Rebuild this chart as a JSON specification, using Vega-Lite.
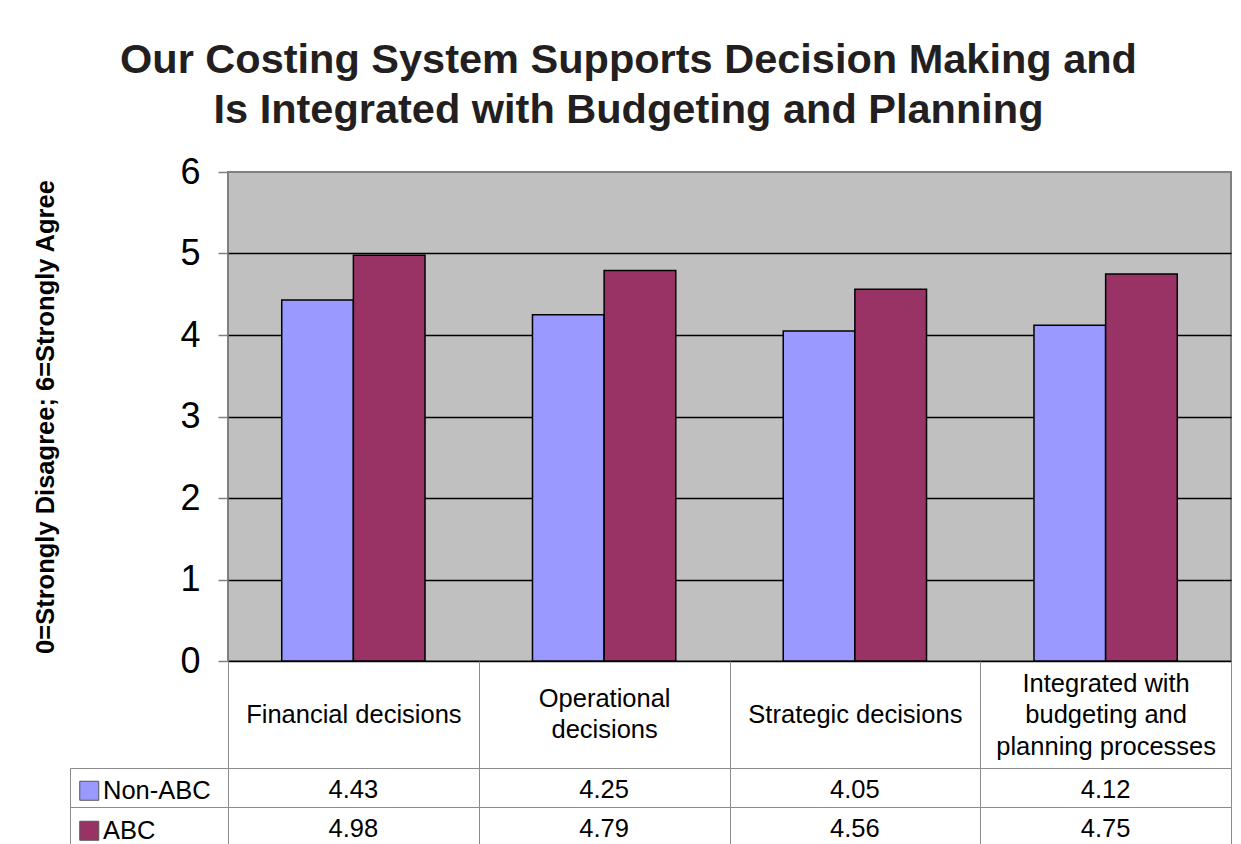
{
  "$schema": "https://vega.github.io/schema/vega-lite/v6.json",
  "width": 1003,
  "height": 489,
  "autosize": {"type": "none"},
  "padding": {"left": 228, "top": 172, "right": 10, "bottom": 183},
  "background": "white",
  "title": {
    "text": ["Our Costing System Supports Decision Making and", "Is Integrated with Budgeting and Planning"],
    "font": "Liberation Sans",
    "fontSize": 41.5,
    "fontWeight": "bold",
    "color": "#231f20",
    "lineHeight": 49.5,
    "anchor": "middle",
    "frame": "group",
    "dx": -101,
    "offset": 23
  },
  "data": {
    "values": [
      {"category": "Financial decisions", "group": "Non-ABC", "score": 4.43},
      {"category": "Financial decisions", "group": "ABC", "score": 4.98},
      {"category": "Operational decisions", "group": "Non-ABC", "score": 4.25},
      {"category": "Operational decisions", "group": "ABC", "score": 4.79},
      {"category": "Strategic decisions", "group": "Non-ABC", "score": 4.05},
      {"category": "Strategic decisions", "group": "ABC", "score": 4.56},
      {"category": "Integrated with budgeting and planning processes", "group": "Non-ABC", "score": 4.12},
      {"category": "Integrated with budgeting and planning processes", "group": "ABC", "score": 4.75}
    ]
  },
  "encoding": {
    "x": {
      "field": "category",
      "type": "nominal",
      "sort": ["Financial decisions", "Operational decisions", "Strategic decisions", "Integrated with budgeting and planning processes"],
      "scale": {"paddingInner": 0, "paddingOuter": 0},
      "axis": {
        "title": null,
        "orient": "bottom",
        "domain": false,
        "tickBand": "extent",
        "tickSize": 190,
        "tickColor": "#8c8c8c",
        "tickWidth": 1,
        "labelAngle": 0,
        "labelFont": "Liberation Sans",
        "labelFontSize": 25.5,
        "labelColor": "black",
        "labelLineHeight": 31.5,
        "labelBaseline": "middle",
        "labelPadding": {
          "condition": [
            {"test": "datum.value === 'Operational decisions'", "value": -153},
            {"test": "datum.value === 'Integrated with budgeting and planning processes'", "value": -168}
          ],
          "value": -137
        },
        "labelLimit": 0,
        "labelOverlap": false,
        "labelBound": false,
        "labelFlush": false,
        "labelExpr": "datum.value === 'Operational decisions' ? ['Operational', 'decisions'] : datum.value === 'Integrated with budgeting and planning processes' ? ['Integrated with', 'budgeting and', 'planning processes'] : datum.value"
      }
    }
  },
  "layer": [
    {
      "mark": {"type": "bar", "stroke": "black", "strokeWidth": 1.5},
      "encoding": {
        "xOffset": {
          "field": "group",
          "type": "nominal",
          "sort": ["Non-ABC", "ABC"],
          "scale": {"paddingInner": 0, "paddingOuter": 0.75}
        },
        "y": {
          "field": "score",
          "type": "quantitative",
          "scale": {"domain": [0, 6], "nice": false},
          "axis": {
            "values": [0, 1, 2, 3, 4, 5, 6],
            "title": "0=Strongly Disagree; 6=Strongly Agree",
            "titleFont": "Liberation Sans",
            "titleFontSize": 25.5,
            "titleFontWeight": "bold",
            "titleColor": "black",
            "titleAngle": -90,
            "titleAlign": "center",
            "titleBaseline": "alphabetic",
            "titleX": -175,
            "titleY": 244.5,
            "domain": false,
            "tickSize": 10,
            "tickColor": "#808080",
            "tickWidth": 1.5,
            "labelFont": "Liberation Sans",
            "labelFontSize": 36,
            "labelColor": "black",
            "labelPadding": 18,
            "grid": true,
            "gridColor": {"condition": {"test": "datum.value === 6", "value": "transparent"}, "value": "black"},
            "gridWidth": 1.5
          }
        },
        "color": {
          "field": "group",
          "type": "nominal",
          "scale": {"domain": ["Non-ABC", "ABC"], "range": ["#9999ff", "#993366"]},
          "legend": {
            "orient": "none",
            "legendX": -151.5,
            "legendY": 606,
            "title": null,
            "padding": 0,
            "symbolType": "square",
            "symbolSize": 361,
            "symbolStrokeColor": "#555555",
            "symbolStrokeWidth": 1,
            "symbolOpacity": 1,
            "labelFont": "Liberation Sans",
            "labelFontSize": 25.5,
            "labelColor": "black",
            "labelOffset": 1,
            "rowPadding": 13
          }
        }
      }
    },
    {
      "mark": {"type": "text", "font": "Liberation Sans", "fontSize": 25.5, "color": "black", "dy": 2},
      "encoding": {
        "y": {
          "field": "group",
          "type": "nominal",
          "scale": {"type": "band", "domain": ["Non-ABC", "ABC"], "range": [596, 674], "paddingInner": 0, "paddingOuter": 0},
          "axis": {
            "orient": "left",
            "offset": 158,
            "title": null,
            "labels": false,
            "tickBand": "extent",
            "tickSize": -158,
            "tickColor": "#8c8c8c",
            "tickWidth": 1,
            "domain": true,
            "domainColor": "#8c8c8c",
            "domainWidth": 1,
            "grid": true,
            "gridColor": "#8c8c8c",
            "gridWidth": 1
          }
        },
        "text": {"field": "score", "type": "quantitative", "format": ".2f"}
      }
    }
  ],
  "resolve": {"scale": {"y": "independent"}, "axis": {"y": "independent"}},
  "config": {
    "view": {"fill": "#c0c0c0", "stroke": "#808080", "strokeWidth": 2}
  }
}
